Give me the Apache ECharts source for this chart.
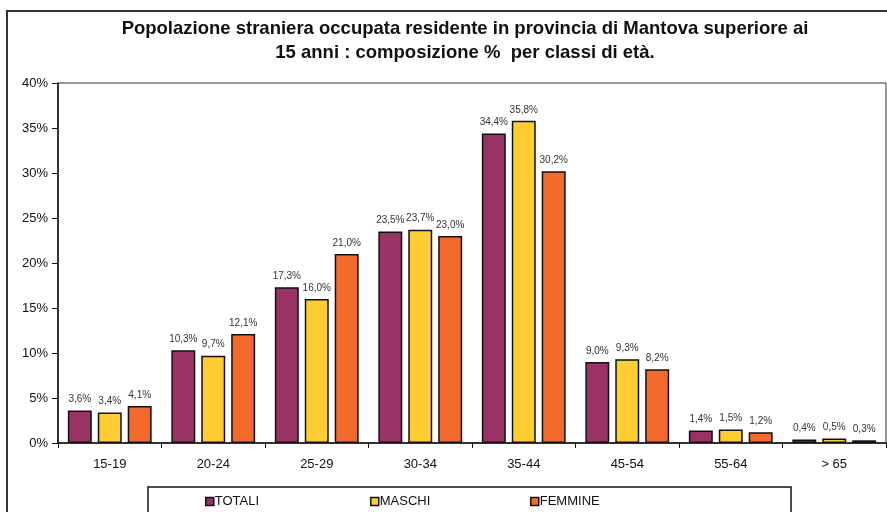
<!DOCTYPE html>
<html>
<head>
<meta charset="utf-8">
<script src="https://cdn.jsdelivr.net/npm/echarts@6/dist/echarts.min.js"></script>
<style>
  html, body { margin: 0; padding: 0; background: #fff; }
  #chart { width: 887px; height: 512px; }
</style>
</head>
<body>
<div id="chart"></div>
<script>
// classi di età e percentuali
const classi = ["15-19", "20-24", "25-29", "30-34", "35-44", "45-54", "55-64", "> 65"];
const totali = [3.6, 10.3, 17.3, 23.5, 34.4, 9.0, 1.4, 0.4];
const maschi = [3.4, 9.7, 16.0, 23.7, 35.8, 9.3, 1.5, 0.5];
const femmine = [4.1, 12.1, 21.0, 23.0, 30.2, 8.2, 1.2, 0.3];

const font = "Liberation Sans, Arial, sans-serif";

function serie(name, data, color) {
  return {
    name: name,
    type: "bar",
    data: data,
    barGap: "25%",
    barCategoryGap: "19%",
    itemStyle: { color: color, borderColor: "#111", borderWidth: 1.5 },
    label: {
      show: true,
      position: "top",
      distance: 6,
      fontFamily: font,
      fontSize: 10,
      color: "#333",
      formatter: p => p.value.toFixed(1).replace(".", ",") + "%"
    }
  };
}

function legenda(name, left) {
  return {
    data: [name],
    left: left,
    top: 490,
    icon: "rect",
    itemWidth: 8,
    itemHeight: 8,
    itemStyle: { borderColor: "#111", borderWidth: 1.5 },
    textStyle: { fontFamily: font, fontSize: 13, color: "#111", padding: [0, 0, 0, -4] }
  };
}

const chart = echarts.init(document.getElementById("chart"));
chart.setOption({
  backgroundColor: "#fff",
  animation: false,
  title: {
    text: "Popolazione straniera occupata residente in provincia di Mantova superiore ai\n15 anni : composizione %  per classi di età.",
    left: 460,
    top: 12,
    textAlign: "center",
    textStyle: { fontFamily: font, fontSize: 18.5, fontWeight: "bold", color: "#111", lineHeight: 24 }
  },
  graphic: [
    { type: "rect", shape: { x: 7, y: 11, width: 910, height: 600 }, style: { fill: "none", stroke: "#333", lineWidth: 2 } },
    { type: "rect", shape: { x: 148, y: 487, width: 643, height: 60 }, style: { fill: "none", stroke: "#111", lineWidth: 1.5 } }
  ],
  legend: [legenda("TOTALI", 200), legenda("MASCHI", 365), legenda("FEMMINE", 525)],
  grid: { left: 58, right: 1, top: 83, bottom: 69, show: true, borderColor: "#333", borderWidth: 1 },
  xAxis: {
    type: "category",
    data: classi,
    axisLine: { lineStyle: { color: "#111", width: 1.5 } },
    axisTick: { show: true, length: 5, lineStyle: { color: "#111" } },
    axisLabel: { fontFamily: font, fontSize: 13, color: "#111", margin: 15 }
  },
  yAxis: {
    type: "value",
    min: 0,
    max: 40,
    interval: 5,
    splitLine: { show: false },
    axisLine: { show: true, lineStyle: { color: "#111", width: 1.5 } },
    axisTick: { show: true, length: 6, lineStyle: { color: "#111" } },
    axisLabel: { fontFamily: font, fontSize: 13, color: "#111", margin: 10, formatter: "{value}%" }
  },
  series: [
    serie("TOTALI", totali, "#993366"),
    serie("MASCHI", maschi, "#FFCC33"),
    serie("FEMMINE", femmine, "#F26B2D")
  ]
});
</script>
</body>
</html>
